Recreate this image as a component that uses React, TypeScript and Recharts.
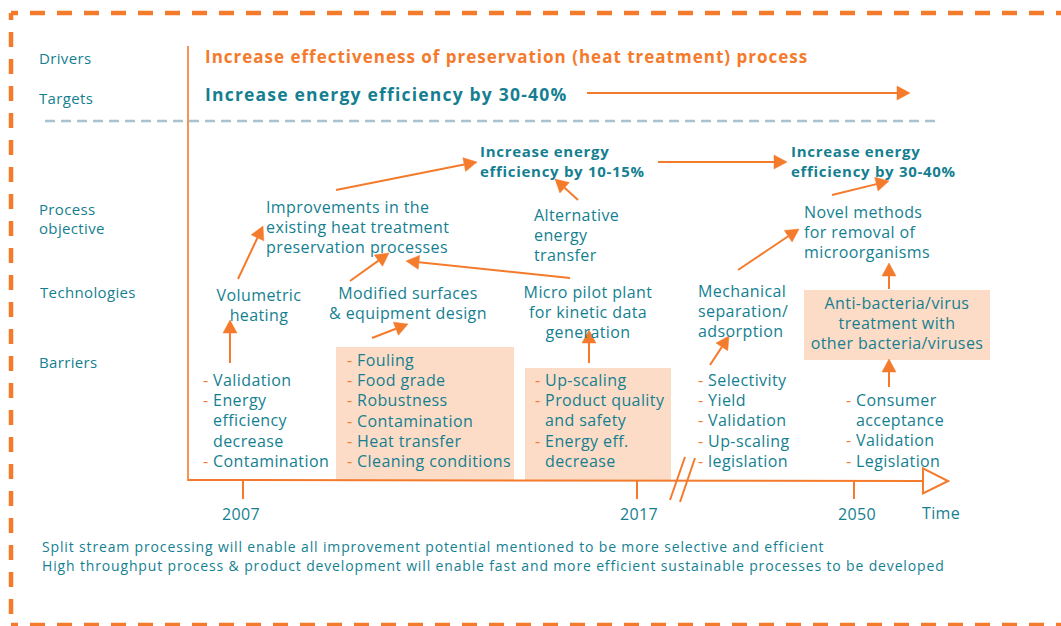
import React from 'react';
import { ScatterChart, Scatter, XAxis, YAxis, ReferenceLine, ReferenceArea } from 'recharts';

// ---------- content ----------
const rowLabels = [['Drivers'], ['Targets'], ['Process', 'objective'], ['Technologies'], ['Barriers']];
const driverText = 'Increase effectiveness of preservation (heat treatment) process';
const targetText = 'Increase energy efficiency by 30-40%';
const milestones = [
  ['Increase energy', 'efficiency by 10-15%'],
  ['Increase energy', 'efficiency by 30-40%'],
];
const objectives = [
  ['Improvements in the', 'existing heat treatment', 'preservation processes'],
  ['Alternative', 'energy', 'transfer'],
  ['Novel methods', 'for removal of', 'microorganisms'],
];
const technologies = [
  ['Volumetric', 'heating'],
  ['Modified surfaces', '& equipment design'],
  ['Micro pilot plant', 'for kinetic data', 'generation'],
  ['Mechanical', 'separation/', 'adsorption'],
  ['Anti-bacteria/virus', 'treatment with', 'other bacteria/viruses'],
];
const barriers = [
  [['Validation'], ['Energy', 'efficiency', 'decrease'], ['Contamination']],
  [['Fouling'], ['Food grade'], ['Robustness'], ['Contamination'], ['Heat transfer'], ['Cleaning conditions']],
  [['Up-scaling'], ['Product quality', 'and safety'], ['Energy eff.', 'decrease']],
  [['Selectivity'], ['Yield'], ['Validation'], ['Up-scaling'], ['legislation']],
  [['Consumer', 'acceptance'], ['Validation'], ['Legislation']],
];
const years = ['2007', '2017', '2050'];
const timeLabel = 'Time';
const footnotes = [
  'Split stream processing will enable all improvement potential mentioned to be more selective and efficient',
  'High throughput process & product development will enable fast and more efficient sustainable processes to be developed',
];

// ---------- layout (diagram coordinates) ----------
const W = 1061;
const H = 626;
const rowPos = [[39, 59], [39, 99], [39, 210], [40, 293], [39, 363]];
const milestonePos = [[480, 152], [791, 152]];
const objectivePos = [[266, 207], [534, 215], [804, 212]];
const techPos = [[259, 295, 'middle'], [408, 293, 'middle'], [588, 292, 'middle'], [698, 291, 'start'], [897, 303, 'middle']];
const barrierPos = [[203, 380], [347, 360], [535, 380], [698, 380], [846, 400]];
const yearX = [241, 639, 857];
const tickX = [243, 637, 854];
const boxes = [
  [336, 514, 347, 480],
  [525, 671, 368, 480],
  [804, 990, 290, 360],
];
const arrows = [
  [587, 93, 910, 93],
  [336, 190, 477, 162],
  [658, 162, 787, 162],
  [578, 200, 555, 179],
  [238, 279, 263, 226],
  [230, 363, 230, 320],
  [350, 281, 389, 253],
  [570, 278, 406, 261],
  [372, 338, 408, 324],
  [589, 363, 589, 330],
  [710, 365, 729, 336],
  [738, 270, 799, 229],
  [832, 195, 889, 181],
  [889, 289, 889, 263],
  [889, 387, 889, 359],
];

const ORANGE = '#F47A2C';
const TEAL = '#157F91';
const PEACH = '#FCDCC6';
const SEP = '#A6C3CF';
const FONT = "'Open Sans', sans-serif";

const STYLES: Record<string, any> = {
  row: { size: 15, weight: 400, fill: TEAL, lh: 19, ls: 0.35 },
  driver: { size: 17, weight: 700, fill: ORANGE, lh: 20, ls: 1.0 },
  target: { size: 17.5, weight: 700, fill: TEAL, lh: 20, ls: 1.2 },
  milestone: { size: 15, weight: 700, fill: TEAL, lh: 20, ls: 0.7 },
  body: { size: 16, weight: 400, fill: TEAL, lh: 20.3, ls: 0.4 },
  year: { size: 16, weight: 400, fill: TEAL, lh: 20, ls: 0.3 },
  foot: { size: 14, weight: 400, fill: TEAL, lh: 19, ls: 0.85 },
};

type TextPt = { x: number; y: number; text: string; kind: string; anchor?: string; dash?: boolean };
const textPts: TextPt[] = [];
const addBlock = (lines: string[], x: number, y: number, kind: string, anchor = 'start') => {
  lines.forEach((t, i) => textPts.push({ x, y: y + i * STYLES[kind].lh, text: t, kind, anchor }));
};
rowLabels.forEach((l, i) => addBlock(l, rowPos[i][0], rowPos[i][1], 'row'));
addBlock([driverText], 205, 57, 'driver');
addBlock([targetText], 205, 95, 'target');
milestones.forEach((l, i) => addBlock(l, milestonePos[i][0], milestonePos[i][1], 'milestone'));
objectives.forEach((l, i) => addBlock(l, objectivePos[i][0], objectivePos[i][1], 'body'));
technologies.forEach((l, i) =>
  addBlock(l, techPos[i][0] as number, techPos[i][1] as number, 'body', techPos[i][2] as string)
);
barriers.forEach((list, li) => {
  const [bx, by] = barrierPos[li];
  let row = 0;
  list.forEach((item) => {
    item.forEach((t, k) => {
      textPts.push({
        x: k === 0 ? bx : bx + 10,
        y: by + row * STYLES.body.lh,
        text: t,
        kind: 'body',
        dash: k === 0,
      });
      row += 1;
    });
  });
});
years.forEach((t, i) => addBlock([t], yearX[i], 514, 'year', 'middle'));
addBlock([timeLabel], 941, 513, 'year', 'middle');
addBlock(footnotes, 42, 547, 'foot');

const TextShape = (props: any) => {
  const { cx, cy, payload } = props;
  const st = STYLES[payload.kind];
  return (
    <text
      x={cx}
      y={cy}
      dy="0.36em"
      textAnchor={payload.anchor || 'start'}
      fontFamily={FONT}
      fontSize={st.size}
      fontWeight={st.weight}
      letterSpacing={st.ls}
      fill={st.fill}
    >
      {payload.dash ? <tspan fill={ORANGE}>{'- '}</tspan> : null}
      <tspan>{payload.text}</tspan>
    </text>
  );
};

const ArrowShape = (open: boolean, headL: number, headW: number, sw: number) => (p: any) => {
  const { x1, y1, x2, y2 } = p;
  const dx = x2 - x1;
  const dy = y2 - y1;
  const len = Math.sqrt(dx * dx + dy * dy) || 1;
  const ux = dx / len;
  const uy = dy / len;
  const bx = x2 - ux * headL;
  const by = y2 - uy * headL;
  const px = -uy * headW;
  const py = ux * headW;
  const pts = `${x2},${y2} ${bx + px},${by + py} ${bx - px},${by - py}`;
  return (
    <g>
      <line x1={x1} y1={y1} x2={bx} y2={by} stroke={ORANGE} strokeWidth={sw} />
      <polygon
        points={pts}
        fill={open ? '#ffffff' : ORANGE}
        stroke={ORANGE}
        strokeWidth={open ? 2 : 0.5}
        strokeLinejoin="miter"
      />
    </g>
  );
};

const smallArrow = ArrowShape(false, 13, 7, 2);
const axisArrow = ArrowShape(true, 25, 12.5, 2);

export default function App() {
  return (
    <div style={{ position: 'absolute', left: 0, top: 0, width: W, height: H, background: '#fff' }}>
      <ScatterChart width={W} height={H} margin={{ top: 0, right: 0, bottom: 0, left: 0 }}>
        <XAxis type="number" dataKey="x" domain={[0, W]} hide allowDataOverflow />
        <YAxis type="number" dataKey="y" domain={[0, H]} reversed hide allowDataOverflow />

        {/* dashed frame */}
        <ReferenceLine segment={[{ x: 11, y: 13 }, { x: W, y: 13 }]} stroke={ORANGE} strokeWidth={4.5} strokeDasharray="15 12" strokeDashoffset={8} />
        <ReferenceLine segment={[{ x: 11, y: 13 }, { x: 11, y: 625 }]} stroke={ORANGE} strokeWidth={4.5} strokeDasharray="15 12" strokeDashoffset={8} />
        <ReferenceLine segment={[{ x: 11, y: 625 }, { x: W, y: 625 }]} stroke={ORANGE} strokeWidth={4.5} strokeDasharray="15 12" strokeDashoffset={8} />

        {/* separator */}
        <ReferenceLine segment={[{ x: 45, y: 121 }, { x: 935, y: 121 }]} stroke={SEP} strokeWidth={2.5} strokeDasharray="10 6" />

        {/* boxes */}
        {boxes.map((b, i) => (
          <ReferenceArea key={`b${i}`} x1={b[0]} x2={b[1]} y1={b[2]} y2={b[3]} fill={PEACH} fillOpacity={1} stroke="none" />
        ))}

        {/* vertical line & time axis */}
        <ReferenceLine segment={[{ x: 188, y: 46 }, { x: 188, y: 481 }]} stroke={ORANGE} strokeWidth={1.6} />
        <ReferenceLine segment={[{ x: 188, y: 480 }, { x: 948, y: 481 }]} shape={axisArrow} />
        {tickX.map((x, i) => (
          <ReferenceLine key={`t${i}`} segment={[{ x, y: 480 }, { x, y: 499 }]} stroke={ORANGE} strokeWidth={2} />
        ))}
        <ReferenceLine segment={[{ x: 670, y: 500 }, { x: 685, y: 457 }]} stroke={ORANGE} strokeWidth={2} />
        <ReferenceLine segment={[{ x: 680, y: 502 }, { x: 695, y: 458 }]} stroke={ORANGE} strokeWidth={2} />

        {/* arrows */}
        {arrows.map((a, i) => (
          <ReferenceLine key={`a${i}`} segment={[{ x: a[0], y: a[1] }, { x: a[2], y: a[3] }]} shape={smallArrow} />
        ))}

        <Scatter data={textPts} shape={TextShape} isAnimationActive={false} />
      </ScatterChart>
    </div>
  );
}
